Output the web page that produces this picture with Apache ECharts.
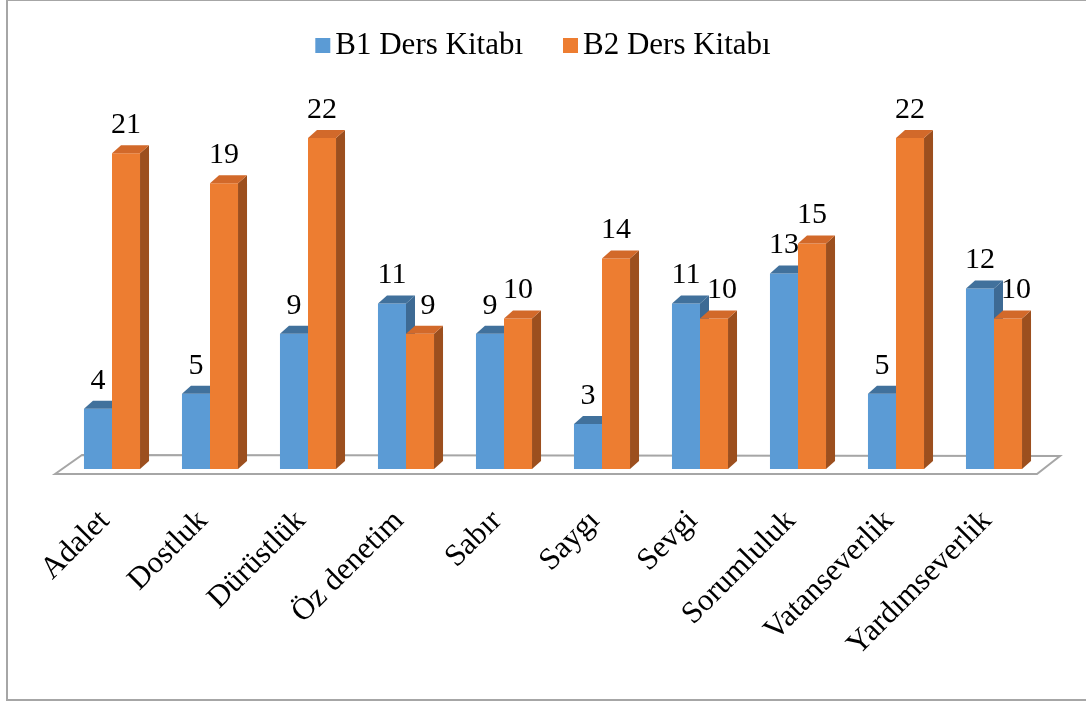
<!DOCTYPE html>
<html>
<head>
<meta charset="utf-8">
<script src="https://cdn.jsdelivr.net/npm/echarts@6/dist/echarts.min.js"></script>
<style>
  html, body { margin: 0; padding: 0; background: #fff; }
  #chart { width: 1086px; height: 702px; }
</style>
</head>
<body>
<div id="chart"></div>
<script>
const categories = ['Adalet', 'Dostluk', 'Dürüstlük', 'Öz denetim', 'Sabır', 'Saygı', 'Sevgi', 'Sorumluluk', 'Vatanseverlik', 'Yardımseverlik']
const b1Values = [4, 5, 9, 11, 9, 3, 11, 13, 5, 12]
const b2Values = [21, 19, 22, 9, 10, 14, 10, 15, 22, 10]
const seriesNames = ['B1 Ders Kitabı', 'B2 Ders Kitabı']

const FONT = '"Liberation Serif", "Times New Roman", serif'
// front / top / side shades
const shades = [
  { front: '#5b9bd5', top: '#41719c', side: '#3d6a94' },
  { front: '#ed7d31', top: '#d2692a', side: '#9c4f1e' }
]

const chart = echarts.init(document.getElementById('chart'))

// 3D-looking bar drawn from the category / value axes
const bar3d = (si) => (params, api) => {
  const idx = api.value(0)
  const val = api.value(1)
  const base = api.coord([idx, 0])
  const top = api.coord([idx, val])
  const band = api.size([1, 0])[0]
  const w = band * 0.286
  const x0 = si === 0 ? base[0] - w : base[0]
  const x1 = x0 + w
  const dx = 9, dy = 8
  const c = shades[si]
  // orange label is nudged right when the blue bar next to it is taller
  const nudge = (si === 1 && b1Values[idx] > val) ? 8 : 0
  return {
    type: 'group',
    children: [
      { type: 'rect', shape: { x: x0, y: top[1], width: w, height: base[1] - top[1] }, style: { fill: c.front } },
      { type: 'polygon', shape: { points: [[x1, base[1]], [x1, top[1]], [x1 + dx, top[1] - dy], [x1 + dx, base[1] - dy]] }, style: { fill: c.side } },
      { type: 'polygon', shape: { points: [[x0, top[1]], [x1, top[1]], [x1 + dx, top[1] - dy], [x0 + dx, top[1] - dy]] }, style: { fill: c.top } },
      { type: 'text', style: { text: String(val), x: x0 + w / 2 + nudge, y: top[1] - 13, align: 'center', verticalAlign: 'bottom', fill: '#000', font: '30px ' + FONT } }
    ]
  }
}

// floor under the bars, sized from the grid
const floor = (params) => {
  const cs = params.coordSys
  const l = cs.x, r = cs.x + cs.width, b = cs.y + cs.height
  return {
    type: 'polygon',
    shape: { points: [[l - 8, b + 5], [l + 19, b - 14], [r + 17, b - 13], [r - 6, b + 5]] },
    style: { fill: '#fff', stroke: '#a6a6a6', lineWidth: 2 }
  }
}

chart.setOption({
  backgroundColor: '#fff',
  animation: false,
  graphic: [
    { type: 'rect', shape: { x: 7, y: 0, width: 1100, height: 700 }, style: { fill: 'none', stroke: '#a6a6a6', lineWidth: 2 }, z: -10 }
  ],
  legend: {
    top: 25,
    left: 'center',
    icon: 'rect',
    itemWidth: 15,
    itemHeight: 15,
    itemGap: 40,
    textStyle: { fontFamily: FONT, fontSize: 31, color: '#000' },
    data: seriesNames
  },
  grid: {
    left: 63,
    right: 43,
    top: 108,
    bottom: 233
  },
  xAxis: {
    type: 'category',
    data: categories,
    axisLine: { show: false },
    axisTick: { show: false },
    axisLabel: {
      interval: 0,
      rotate: 45,
      margin: 40,
      padding: [0, 10, 0, 0],
      fontFamily: FONT,
      fontSize: 31,
      color: '#000'
    }
  },
  yAxis: {
    type: 'value',
    min: 0,
    max: 24,
    show: false,
    splitLine: { show: false }
  },
  series: [
    { type: 'custom', name: 'floor', renderItem: floor, data: [[0, 0]], z: 1, silent: true },
    { type: 'custom', name: seriesNames[0], renderItem: bar3d(0), itemStyle: { color: shades[0].front }, data: b1Values.map((v, i) => [i, v]), z: 2 },
    { type: 'custom', name: seriesNames[1], renderItem: bar3d(1), itemStyle: { color: shades[1].front }, data: b2Values.map((v, i) => [i, v]), z: 3 }
  ]
})
</script>
</body>
</html>
